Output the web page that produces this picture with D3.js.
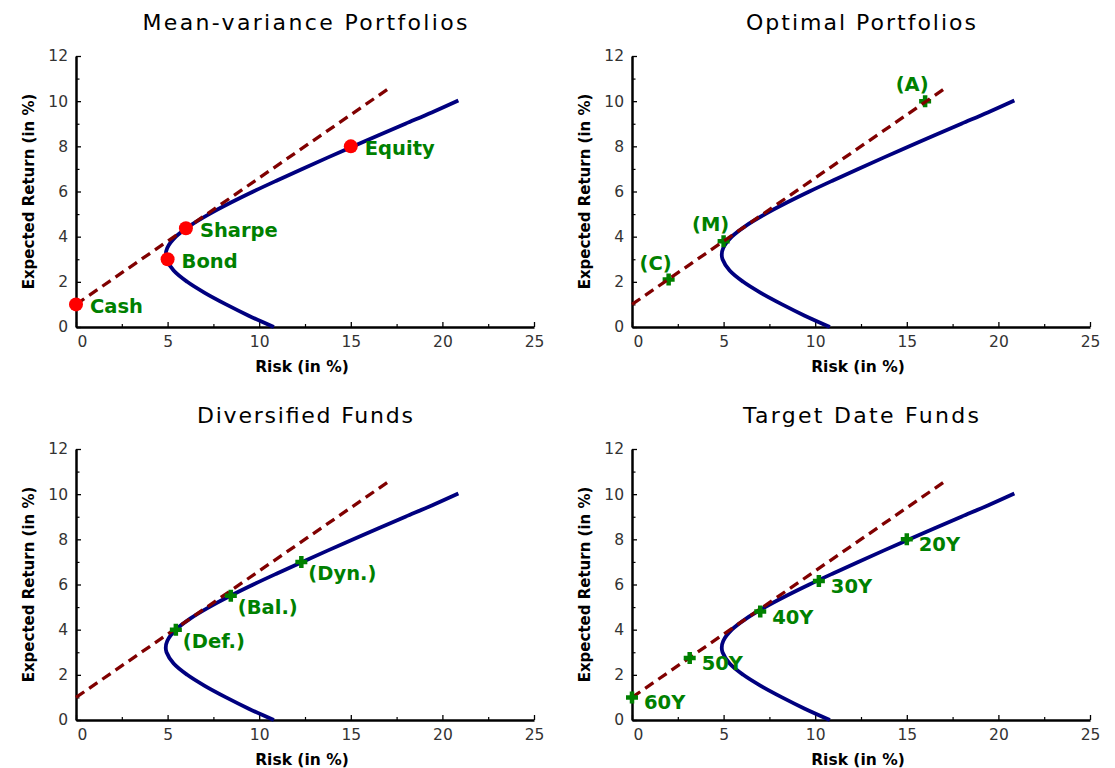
<!DOCTYPE html>
<html>
<head>
<meta charset="utf-8">
<script src="https://cdn.jsdelivr.net/npm/d3@7"></script>
<style>
  html, body { margin: 0; padding: 0; background: #fff; }
  svg { display: block; }
</style>
</head>
<body>
<svg id="chart" width="1115" height="768"></svg>
<script>
// ---------- data ----------
const titles = ["Mean-variance Portfolios", "Optimal Portfolios", "Diversified Funds", "Target Date Funds"];
const titleWidths = [325, 230, 216, 236];

// efficient frontier (risk, return)
const frontierRisk   = [10.8, 9.43, 8.19, 7.05, 6.07, 5.33, 4.94, 4.9, 4.98, 5.45, 6.25, 7.27, 8.43, 9.68, 11.0, 12.35, 13.73, 15.14, 16.55, 17.98, 19.42, 20.87];
const frontierReturn = [0.0, 0.5, 1.0, 1.5, 2.0, 2.5, 3.0, 3.2, 3.5, 4.0, 4.5, 5.0, 5.5, 6.0, 6.5, 7.0, 7.5, 8.0, 8.5, 9.0, 9.5, 10.03];

// capital market line
const cmlRisk   = [0, 17];
const cmlReturn = [1, 10.52];

// panel 1 : asset classes
const assetNames  = ["Cash", "Bond", "Sharpe", "Equity"];
const assetRisk   = [0, 5, 6, 15];
const assetReturn = [1, 3, 4.37, 8];

// panel 2 : optimal portfolios
const optNames  = ["(C)", "(M)", "(A)"];
const optRisk   = [2, 5, 16];
const optReturn = [2.1, 3.8, 10];

// panel 3 : diversified funds
const divNames  = ["(Def.)", "(Bal.)", "(Dyn.)"];
const divRisk   = [5.45, 8.45, 12.3];
const divReturn = [4.0, 5.5, 7.0];

// panel 4 : target date funds
const tdfNames  = ["60Y", "50Y", "40Y", "30Y", "20Y"];
const tdfRisk   = [0, 3.15, 7.0, 10.2, 15];
const tdfReturn = [1.0, 2.75, 4.8, 6.15, 8.0];

const xMajorTicks = [0, 5, 10, 15, 20, 25];
const xMinorTicks = [2.5, 7.5, 12.5, 17.5, 22.5];
const yMajorTicks = [0, 2, 4, 6, 8, 10, 12];
const yMinorTicks = [1, 3, 5, 7, 9, 11];

const xLabel = "Risk (in %)";
const yLabel = "Expected Return (in %)";

// ---------- drawing ----------
const svg = d3.select("#chart");
svg.append("rect").attr("width", 1115).attr("height", 768).attr("fill", "#fff");

const panelOffsets = [[0, 0], [556, 0], [0, 393], [556, 393]];
const plotLeft = 76, plotRight = 534, plotTop = 56, plotBottom = 327;

const frontier = frontierRisk.map((r, i) => [r, frontierReturn[i]]);
const cml = cmlRisk.map((r, i) => [r, cmlReturn[i]]);

const panels = [
  { names: assetNames, risk: assetRisk, ret: assetReturn, kind: "dot", lx: 14, ly: 1.5, anchor: "start", under: false },
  { names: optNames, risk: optRisk, ret: optReturn, kind: "plus", lx: -13, ly: -17, anchor: "middle", under: true },
  { names: divNames, risk: divRisk, ret: divReturn, kind: "plus", lx: 7, ly: 11, anchor: "start", under: false },
  { names: tdfNames, risk: tdfRisk, ret: tdfReturn, kind: "plus", lx: 12, ly: 5, anchor: "start", under: false }
];

panels.forEach((p, pi) => {
  const [ox, oy] = panelOffsets[pi];
  const g = svg.append("g").attr("transform", `translate(${ox},${oy})`);

  const x = d3.scaleLinear().domain([0, 25]).range([plotLeft, plotRight]);
  const y = d3.scaleLinear().domain([0, 12]).range([plotBottom, plotTop]);

  // title
  g.append("text")
    .attr("x", (plotLeft + plotRight) / 2)
    .attr("y", 29.5)
    .attr("text-anchor", "middle")
    .attr("font-family", "DejaVu Sans")
    .attr("font-size", 22)
    .attr("fill", "#000")
    .attr("textLength", titleWidths[pi])
    .attr("lengthAdjust", "spacing")
    .text(titles[pi]);

  // minor ticks
  g.append("g").attr("transform", `translate(0,${plotBottom})`)
    .call(d3.axisBottom(x).tickValues(xMinorTicks).tickSize(-3).tickSizeOuter(0).tickFormat(""))
    .call(a => a.select(".domain").remove())
    .call(a => a.selectAll("line").attr("stroke", "#000").attr("stroke-width", 1.2));
  g.append("g").attr("transform", `translate(${plotLeft},0)`)
    .call(d3.axisLeft(y).tickValues(yMinorTicks).tickSize(-3.5).tickSizeOuter(0).tickFormat(""))
    .call(a => a.select(".domain").remove())
    .call(a => a.selectAll("line").attr("stroke", "#000").attr("stroke-width", 1.2));

  // major axes
  const xa = g.append("g").attr("transform", `translate(0,${plotBottom})`)
    .call(d3.axisBottom(x).tickValues(xMajorTicks).tickSize(-5).tickSizeOuter(0).tickPadding(9).tickFormat(d3.format("d")));
  xa.select(".domain").attr("stroke", "#000").attr("stroke-width", 2.5);
  xa.selectAll("line").attr("stroke", "#000").attr("stroke-width", 1.3);
  xa.selectAll("text").attr("font-family", "DejaVu Sans").attr("font-size", 15.5).attr("fill", "#333")
    .attr("dx", d => d === 0 ? 6 : 0);

  const ya = g.append("g").attr("transform", `translate(${plotLeft},0)`)
    .call(d3.axisLeft(y).tickValues(yMajorTicks).tickSize(-5).tickSizeOuter(0).tickPadding(8).tickFormat(d3.format("d")));
  ya.select(".domain").attr("stroke", "#000").attr("stroke-width", 2.5);
  ya.selectAll("line").attr("stroke", "#000").attr("stroke-width", 1.3);
  ya.selectAll("text").attr("font-family", "DejaVu Sans").attr("font-size", 15.5).attr("fill", "#333");

  // axis labels
  g.append("text")
    .attr("x", 302).attr("y", 372)
    .attr("text-anchor", "middle")
    .attr("font-family", "DejaVu Sans").attr("font-weight", "bold").attr("font-size", 15.5)
    .attr("fill", "#000")
    .text(xLabel);
  g.append("text")
    .attr("transform", `translate(34,${(plotTop + plotBottom) / 2}) rotate(-90)`)
    .attr("text-anchor", "middle")
    .attr("font-family", "DejaVu Sans").attr("font-weight", "bold").attr("font-size", 15)
    .attr("fill", "#000")
    .text(yLabel);

  const line = d3.line().x(d => x(d[0])).y(d => y(d[1])).curve(d3.curveCatmullRom.alpha(0.5));

  // frontier
  g.append("path").datum(frontier)
    .attr("d", line)
    .attr("fill", "none")
    .attr("stroke", "#00007f")
    .attr("stroke-width", 3.8)
    .attr("stroke-linejoin", "round");

  const pts = p.risk.map((r, i) => ({ r, m: p.ret[i], name: p.names[i] }));

  function drawMarkers() {
    if (p.kind === "dot") {
      g.selectAll("circle.pt").data(pts).join("circle")
        .attr("class", "pt")
        .attr("cx", d => x(d.r)).attr("cy", d => y(d.m))
        .attr("r", 7).attr("fill", "#ff0000");
    } else {
      g.selectAll("path.pt").data(pts).join("path")
        .attr("class", "pt")
        .attr("d", d => {
          const cx = x(d.r), cy = y(d.m), s = 6;
          return `M${cx - s},${cy}H${cx + s}M${cx},${cy - s}V${cy + s}`;
        })
        .attr("stroke", "#008000").attr("stroke-width", 4.5).attr("fill", "none");
    }
  }

  if (p.under) drawMarkers();

  // capital market line
  g.append("path").datum(cml)
    .attr("d", d3.line().x(d => x(d[0])).y(d => y(d[1])))
    .attr("fill", "none")
    .attr("stroke", "#800000")
    .attr("stroke-width", 3.3)
    .attr("stroke-dasharray", "10,6");

  if (!p.under) drawMarkers();

  // labels
  g.selectAll("text.lab").data(pts).join("text")
    .attr("class", "lab")
    .attr("x", d => x(d.r) + p.lx)
    .attr("y", d => y(d.m) + p.ly)
    .attr("dy", "0.36em")
    .attr("text-anchor", p.anchor)
    .attr("font-family", "DejaVu Sans").attr("font-weight", "bold").attr("font-size", 19.5)
    .attr("fill", "#008000")
    .text(d => d.name);
});
</script>
</body>
</html>
